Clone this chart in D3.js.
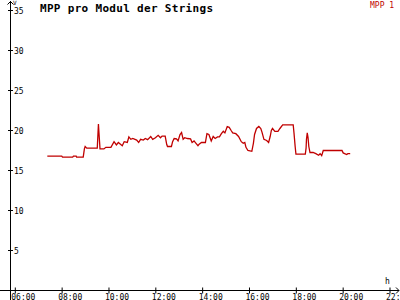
<!DOCTYPE html>
<html>
<head>
	<meta charset="utf-8" />
	<script src="https://cdn.jsdelivr.net/npm/d3@7"></script>
	<style>
		body { margin: 0; background: #fff; }
		.ticktext { font-family: "DejaVu Sans Mono", monospace; font-size: 8px; fill: #000; }
		.title { font-family: "DejaVu Sans Mono", monospace; font-size: 11px; font-weight: bold; fill: #000; }
	</style>
</head>
<body>
	<script>
		var width = 400;
		var height = 300;

		// readings (time of day, MPP per module in V)
		var times = ["07:22","07:59","08:01","08:27","08:29","08:36","08:37","08:54","08:57","08:59",
			"09:03","09:30","09:33","09:34","09:37","09:47","09:52","10:05","10:13","10:19",
			"10:24","10:34","10:39","10:47","10:51","10:56","11:01","11:11","11:16","11:21",
			"11:28","11:33","11:39","11:47","11:52","11:59","12:06","12:12","12:16","12:24",
			"12:28","12:30","12:40","12:43","12:47","12:53","12:57","13:02","13:06","13:10",
			"13:14","13:21","13:29","13:33","13:38","13:43","13:48","13:51","13:57","14:07",
			"14:11","14:16","14:22","14:27","14:32","14:38","14:43","14:48","14:53","14:57",
			"15:03","15:08","15:13","15:17","15:25","15:32","15:39","15:44","15:48","15:51",
			"15:56","16:06","16:10","16:13","16:18","16:24","16:29","16:32","16:37","16:44",
			"16:49","16:53","16:56","16:59","17:05","17:13","17:18","17:25","17:52","17:54",
			"17:57","17:59","18:23","18:25","18:26","18:28","18:30","18:32","18:35","18:43",
			"18:50","18:57","19:01","19:05","19:09","19:57","20:00","20:09","20:12","20:18"];
		var mpp1 = [16.8,16.8,16.67,16.67,16.8,16.8,16.67,16.67,17.7,18.0,
			17.8,17.8,20.8,20.0,17.7,17.7,17.9,17.9,18.6,18.2,
			18.5,18.1,18.6,18.5,19.2,18.9,19.0,18.8,18.5,18.9,
			18.8,19.0,18.85,19.25,18.9,19.1,19.4,19.1,19.3,19.3,
			18.25,18.0,18.0,18.6,19.0,18.95,18.7,19.5,19.75,18.9,
			19.1,19.0,18.95,18.5,18.7,18.4,18.1,18.3,18.5,18.5,
			19.6,19.5,18.7,19.25,19.0,19.2,19.2,19.6,19.9,19.7,
			20.5,20.4,20.0,19.7,19.6,19.25,18.6,18.4,18.5,17.9,
			17.5,17.4,18.4,19.5,20.25,20.5,20.25,19.8,18.9,18.75,
			18.5,19.25,20.0,20.25,19.9,19.9,20.25,20.7,20.7,19.7,
			18.0,17.05,17.05,17.8,18.9,19.7,19.1,18.0,17.25,17.25,
			17.1,16.9,17.1,16.85,17.5,17.5,17.2,17.0,17.1,17.1];
		var xTicks = ["06:00","08:00","10:00","12:00","14:00","16:00","18:00","20:00","22:00"];
		var yTicks = [5,10,15,20,25,30,35];

		var parseTime = d3.timeParse("%H:%M");

		var svg = d3.select("body")
					.append("svg")
					.attr("width", width)
					.attr("height", height);

		svg.append("rect")
			.attr("width", width)
			.attr("height", height)
			.attr("fill", "white");

		var x = d3.scaleTime()
			.domain([parseTime("06:00"), parseTime("22:00")])
			.range([15.3, 390]);
		var y = d3.scaleLinear()
			.domain([0, 35])
			.range([290.5, 10.5]);

		var axisColor = "#000";

		// y axis line + arrow
		svg.append("line")
			.attr("x1", 10.5).attr("x2", 10.5)
			.attr("y1", 1).attr("y2", height)
			.attr("stroke", axisColor);
		svg.append("path")
			.attr("d", "M7.5,4.5 L10.5,1.5 L13.5,4.5")
			.attr("fill", "none").attr("stroke", axisColor);
		svg.append("text")
			.attr("class", "ticktext")
			.attr("x", 13).attr("y", 5)
			.style("font-size", "6px")
			.text("V");

		// x axis line + arrow
		svg.append("line")
			.attr("x1", 0).attr("x2", 399)
			.attr("y1", y(0)).attr("y2", y(0))
			.attr("stroke", axisColor);
		svg.append("path")
			.attr("d", "M396," + (y(0) - 3) + " L399," + y(0) + " L396," + (y(0) + 3))
			.attr("fill", "none").attr("stroke", axisColor);
		svg.append("text")
			.attr("class", "ticktext")
			.attr("x", 385).attr("y", 284)
			.text("h");

		// y ticks
		var yt = svg.append("g").selectAll("g")
			.data(yTicks)
			.enter().append("g");
		yt.append("line")
			.attr("x1", 8).attr("x2", 13)
			.attr("y1", function(d) { return y(d); })
			.attr("y2", function(d) { return y(d); })
			.attr("stroke", axisColor);
		yt.append("text")
			.attr("class", "ticktext")
			.attr("x", 14)
			.attr("y", function(d) { return y(d) + 3; })
			.text(function(d) { return d; });

		// x ticks
		var xt = svg.append("g").selectAll("g")
			.data(xTicks)
			.enter().append("g");
		xt.append("line")
			.attr("x1", function(d) { return x(parseTime(d)); })
			.attr("x2", function(d) { return x(parseTime(d)); })
			.attr("y1", y(0) - 3).attr("y2", y(0) + 3)
			.attr("stroke", axisColor);
		xt.append("text")
			.attr("class", "ticktext")
			.attr("x", function(d) { return x(parseTime(d)) - 4; })
			.attr("y", 299.5)
			.text(function(d) { return d; });

		// data line
		var line = d3.line()
			.x(function(d, i) { return x(parseTime(times[i])); })
			.y(function(d) { return y(d); });

		svg.append("path")
			.datum(mpp1)
			.attr("d", line)
			.attr("fill", "none")
			.attr("stroke", "#c00000")
			.attr("stroke-width", 1.3);

		// title + legend
		svg.append("text")
			.attr("class", "title")
			.attr("x", 40).attr("y", 12)
			.attr("textLength", 173)
			.text("MPP pro Modul der Strings");
		svg.append("text")
			.attr("class", "ticktext")
			.attr("x", 370).attr("y", 8)
			.style("fill", "#c00000")
			.text("MPP 1");
	</script>
</body>
</html>
